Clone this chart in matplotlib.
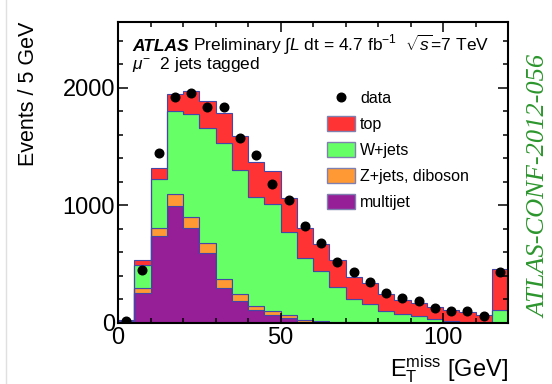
import numpy as np
import matplotlib
matplotlib.use('Agg')
import matplotlib.pyplot as plt
from matplotlib.patches import Patch
from matplotlib.lines import Line2D

plt.rcParams['font.family'] = ['Liberation Sans', 'DejaVu Sans']
plt.rcParams['mathtext.fontset'] = 'custom'
plt.rcParams['mathtext.rm'] = 'Liberation Sans'
plt.rcParams['mathtext.it'] = 'Liberation Sans:italic'
plt.rcParams['mathtext.bf'] = 'Liberation Sans:bold'

# 5 GeV bins, last one is the overflow bin
edges = np.arange(0, 125, 5)
data = [15, 448, 1448, 1926, 1954, 1840, 1840, 1574, 1428, 1184, 1042, 825,
        683, 520, 436, 348, 253, 210, 190, 125, 104, 104, 60, 433]
multijet = [10, 252, 736, 994, 806, 596, 300, 188, 112, 64, 40, 12,
            6, 4, 2, 2, 1, 1, 1, 1, 1, 1, 1, 2]
zjets = [2, 48, 76, 104, 96, 82, 78, 58, 36, 42, 32, 10,
         9, 4, 3, 2, 2, 2, 1, 1, 1, 1, 1, 2]
wjets = [8, 190, 412, 702, 876, 980, 1154, 1056, 922, 902, 700, 530,
         424, 300, 195, 161, 102, 77, 60, 34, 13, 8, 8, 106]
top = [8, 42, 92, 146, 196, 232, 254, 288, 296, 286, 292, 253,
       233, 224, 195, 171, 145, 118, 108, 103, 96, 80, 59, 346]

samples = [('multijet', multijet, '#961e96'),
           ('Z+jets, diboson', zjets, '#ff9933'),
           ('W+jets', wjets, '#66ff66'),
           ('top', top, '#ff3333')]
outline = '#4646a8'

fig = plt.figure(figsize=(5.52, 3.84), dpi=100)
ax = fig.add_axes([0.2138, 0.1589, 0.7065, 0.7838])

base = np.zeros(len(data))
for name, vals, col in samples:
    upper = base + np.array(vals)
    ax.stairs(upper, edges, baseline=base, fill=True, facecolor=col,
              edgecolor=outline, linewidth=0.8)
    base = upper

centers = 0.5 * (edges[:-1] + edges[1:])
ax.plot(centers, data, 'o', color='black', markersize=6.2, zorder=5)

ax.set_xlim(0, 120)
ax.set_ylim(0, 2560)
ax.set_xticks([0, 50, 100])
ax.set_xticks(np.arange(0, 121, 10), minor=True)
ax.set_yticks([0, 1000, 2000])
ax.set_yticks(np.arange(0, 2561, 200), minor=True)
ax.tick_params(which='both', direction='in', top=True, right=True,
               width=1.1, labelsize=17)
ax.tick_params(which='major', length=7.2)
ax.tick_params(which='minor', length=3.6)
ax.tick_params(axis='y', pad=2)
ax.tick_params(axis='x', pad=3)
for s in ax.spines.values():
    s.set_linewidth(1.5)

ax.set_ylabel('Events / 5 GeV', fontsize=15.5, loc='top', labelpad=17)
ax.set_xlabel(r'E$_\mathrm{T}^\mathrm{miss}$ [GeV]', fontsize=17, loc='right',
              labelpad=3)

# header
t1 = ax.text(0.036, 0.905, 'ATLAS', transform=ax.transAxes, fontsize=12.5,
             weight='bold', style='italic', va='baseline')
fig.canvas.draw()
bb = t1.get_window_extent()
x2 = ax.transAxes.inverted().transform((bb.x1 + 4, 0))[0]
ax.text(x2, 0.905, r'Preliminary $\int L$ dt = 4.7 fb$^{-1}$  $\sqrt{s}$=7 TeV',
        transform=ax.transAxes, fontsize=12.5, va='baseline')
ax.text(0.036, 0.845, r'$\mu^{-}$  2 jets tagged', transform=ax.transAxes,
        fontsize=12.5, va='baseline')

handles = [Line2D([], [], marker='o', ls='none', color='black', markersize=6.2)]
labels = ['data']
for name, vals, col in reversed(samples):
    handles.append(Patch(facecolor=col, edgecolor='#8080b0', linewidth=1))
    labels.append(name)
ax.legend(handles, labels, loc='upper left', bbox_to_anchor=(0.535, 0.773),
          frameon=False, fontsize=11.5, handlelength=1.8, handleheight=1.05,
          labelspacing=0.63, handletextpad=0.3, borderpad=0, borderaxespad=0)

fig.text(0.978, 0.515, 'ATLAS-CONF-2012-056', rotation=90, color='#2d962d',
         fontsize=19, style='italic', family='Liberation Serif',
         ha='center', va='center')
fig.add_artist(Line2D([0.011, 0.011], [0, 1], transform=fig.transFigure,
                      color='#e0e0e0', linewidth=1))

fig.savefig('out.png', dpi=100)
